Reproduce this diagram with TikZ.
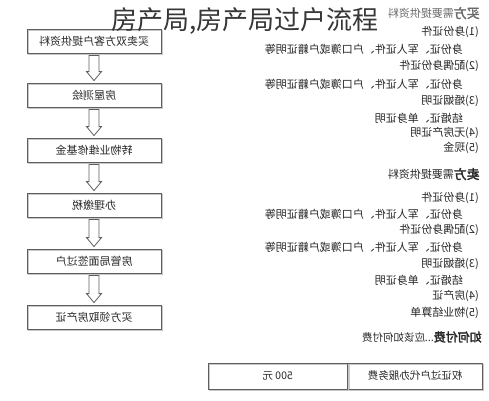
\documentclass[tikz,border=0pt]{standalone}
\usepackage{graphicx}
\usepackage{fontspec}
\newfontfamily\cjk{Noto Sans CJK SC}
\newfontfamily\cjkbold[FakeBold=2.5]{Noto Sans CJK SC}
\usetikzlibrary{calc}
\definecolor{boxgray}{RGB}{95,95,95}
\definecolor{shadegray}{RGB}{200,200,200}
\definecolor{inkgray}{RGB}{40,40,40}
\definecolor{fadegray}{RGB}{105,105,105}
\definecolor{titlegray}{RGB}{55,55,55}
\newcommand\flowbox[3]{\node[flowbox] (#1) at (94,#2) {\reflectbox{#3}};}
\newcommand\hollowarrow[2]{\draw[draw=boxgray, line width=0.8pt, fill=white] let \p1=(#1.south), \p2=(#2.north) in (\x1-5pt,\y1-2pt) -- (\x1+5pt,\y1-2pt) -- (\x1+5pt,\y2+11pt) -- (\x1+7.5pt,\y2+11pt) -- (\x1,\y2+2pt) -- (\x1-7.5pt,\y2+11pt) -- (\x1-5pt,\y2+11pt) -- cycle;}
\newcommand\itemline[3]{\node[itemtext] (#1) at (479,#2) {\reflectbox{#3}};}
\newcommand\subline[3]{\node[itemtext] (#1) at (463,#2) {\reflectbox{#3}};}
\newcommand\sidehead[4]{\node[itemtext, text=#4] (#1) at (480,#2) {\reflectbox{{\cjkbold\fontsize{13}{15}\selectfont #3}{\fontsize{11}{13}\selectfont 需要提供资料}}};}

\begin{document}
\begin{tikzpicture}[x=1pt,y=-1pt,
  flowbox/.style={draw=boxgray, line width=0.8pt, minimum width=134pt, minimum height=24pt, inner sep=0pt, text=inkgray, font=\cjk\fontsize{11}{13}\selectfont,
    preaction={draw=shadegray, line width=1.4pt, transform canvas={xshift=1.3pt, yshift=-1.3pt}}},
  itemtext/.style={anchor=east, inner sep=0pt, text=inkgray, font=\cjk\fontsize{11}{13}\selectfont},
  feecell/.style={draw=boxgray, line width=0.8pt, minimum height=26pt, inner sep=0pt, text=inkgray, font=\cjk\fontsize{10.5}{12}\selectfont,
    preaction={draw=shadegray, line width=1.4pt, transform canvas={xshift=1.3pt, yshift=-1.3pt}}}]
\useasboundingbox (0,0) rectangle (489,400);
\fill[white] (0,0) rectangle (489,400);

% flow of the transfer
\flowbox{supply}{41}{买卖双方客户提供资料}
\flowbox{survey}{95}{房屋测绘}
\flowbox{fund}{150}{转物业维修基金}
\flowbox{tax}{205}{办理缴税}
\flowbox{sign}{261}{房管局面签过户}
\flowbox{collect}{317}{买方领取房产证}
\hollowarrow{supply}{survey}
\hollowarrow{survey}{fund}
\hollowarrow{fund}{tax}
\hollowarrow{tax}{sign}
\hollowarrow{sign}{collect}

% buyer
\sidehead{buyer}{13}{买方}{fadegray}
\itemline{b1}{32}{(1)身份证件}
\subline{b1a}{49}{身份证、军人证件、户口簿或户籍证明等}
\itemline{b2}{66}{(2)配偶身份证件}
\subline{b2a}{84}{身份证、军人证件、户口簿或户籍证明等}
\itemline{b3}{101}{(3)婚姻证明}
\subline{b3a}{118}{结婚证、单身证明}
\itemline{b4}{133}{(4)无房产证明}
\itemline{b5}{148}{(5)现金}

% seller
\sidehead{seller}{174}{卖方}{inkgray}
\itemline{s1}{198}{(1)身份证件}
\subline{s1a}{214}{身份证、军人证件、户口簿或户籍证明等}
\itemline{s2}{230}{(2)配偶身份证件}
\subline{s2a}{247}{身份证、军人证件、户口簿或户籍证明等}
\itemline{s3}{264}{(3)婚姻证明}
\subline{s3a}{280}{结婚证、单身证明}
\itemline{s4}{296}{(4)房产证}
\itemline{s5}{313}{(5)物业结算单}

% fee
\node[itemtext] (howpay) at (482,337) {\reflectbox{{\cjkbold\fontsize{12}{14}\selectfont 如何付费}{\fontsize{10.5}{12}\selectfont ...应该如何付费}}};
\node[feecell, minimum width=134pt] (feename) at (415,376) {\reflectbox{权证过户代办服务费}};
\node[feecell, minimum width=139pt, anchor=east] (feeprice) at (feename.west) {\reflectbox{500 元}};

\node[text=titlegray, font=\cjk\fontsize{26}{30}\selectfont, inner sep=0pt] (title) at (245,21) {房产局,房产局过户流程};
\end{tikzpicture}
\end{document}
